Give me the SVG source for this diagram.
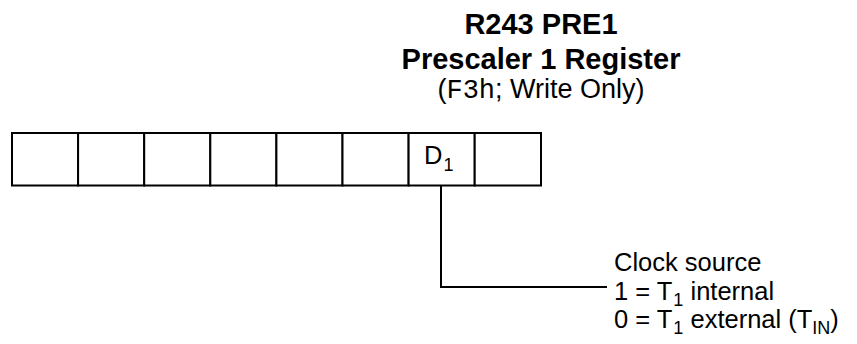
<svg xmlns="http://www.w3.org/2000/svg" width="857" height="344" viewBox="0 0 857 344">
<style>
text{font-family:"Liberation Sans",Arial,sans-serif;fill:#000}
.t{font-weight:bold;font-size:29px;text-anchor:middle}
.s{font-size:27px;text-anchor:middle}
.m{font-family:"Liberation Mono","Courier New",monospace}
.lbl{font-size:25.5px}
.sub{font-size:18px}
.cell{fill:#fff;stroke:#000;stroke-width:2}
.wire{fill:none;stroke:#000;stroke-width:2}
</style>
<g id="title">
<text class="t" x="541" y="34">R243 PRE1</text>
<text class="t" x="541" y="69">Prescaler 1 Register</text>
<text class="s" x="541" y="98">(<tspan class="m">F3h</tspan>; Write Only)</text>
</g>
<g id="register">
<rect class="cell" x="12" y="133" width="66.1" height="52.5"/>
<rect class="cell" x="78.1" y="133" width="66.1" height="52.5"/>
<rect class="cell" x="144.2" y="133" width="66.1" height="52.5"/>
<rect class="cell" x="210.3" y="133" width="66.1" height="52.5"/>
<rect class="cell" x="276.4" y="133" width="66.1" height="52.5"/>
<rect class="cell" x="342.5" y="133" width="66.1" height="52.5"/>
<g id="bit1">
<rect class="cell" x="408.6" y="133" width="66.1" height="52.5"/>
<text class="lbl" x="424" y="164">D<tspan class="sub" dx="1" dy="7">1</tspan></text>
</g>
<rect class="cell" x="474.7" y="133" width="66.3" height="52.5"/>
</g>
<g id="connectors">
<path class="wire" d="M441,185.5 V287 H607"/>
</g>
<g id="desc">
<text class="lbl" x="614" y="271">Clock source</text>
<text class="lbl" x="614" y="300">1 = T<tspan class="sub" dx="1" dy="6">1</tspan><tspan dy="-6"> internal</tspan></text>
<text class="lbl" x="614" y="328">0 = T<tspan class="sub" dx="1" dy="6">1</tspan><tspan dy="-6"> external (T</tspan><tspan class="sub" dy="6">IN</tspan><tspan dy="-6">)</tspan></text>
</g>
</svg>
